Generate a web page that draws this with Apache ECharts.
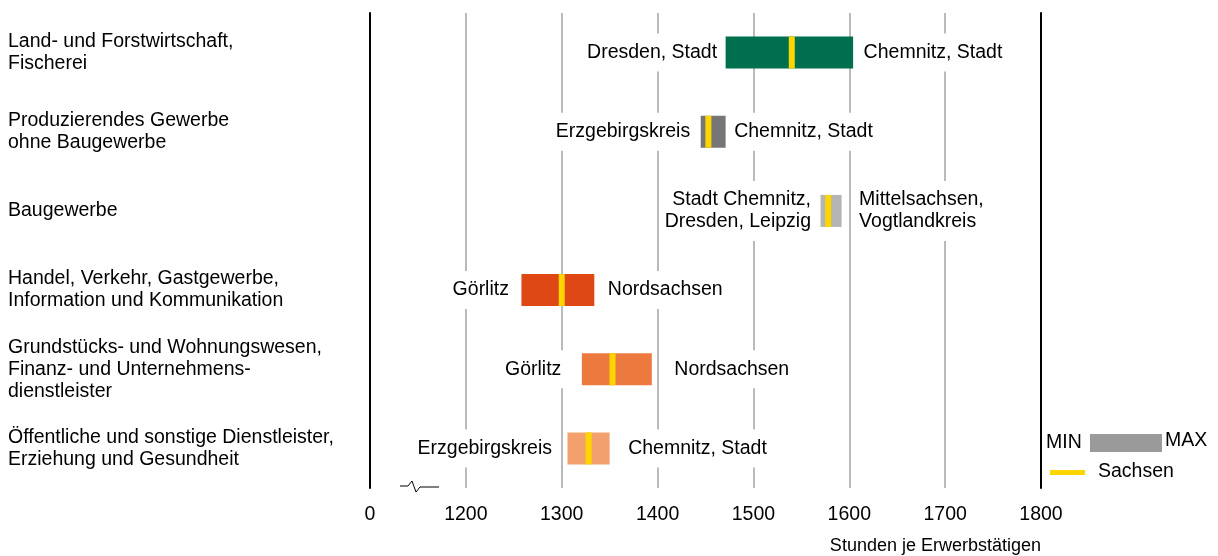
<!DOCTYPE html>
<html>
<head>
<meta charset="utf-8">
<script src="https://cdn.jsdelivr.net/npm/echarts@6/dist/echarts.min.js"></script>
<style>html,body{margin:0;padding:0;background:#fff}#c{width:1218px;height:556px}</style>
</head>
<body>
<div id="c"></div>
<script>
// ---- data ----
const categories = [
  'Land- und Forstwirtschaft,\nFischerei',
  'Produzierendes Gewerbe\nohne Baugewerbe',
  'Baugewerbe',
  'Handel, Verkehr, Gastgewerbe,\nInformation und Kommunikation',
  'Grundstücks- und Wohnungswesen,\nFinanz- und Unternehmens-\ndienstleister',
  'Öffentliche und sonstige Dienstleister,\nErziehung und Gesundheit'
];
const minValues = [1471, 1445, 1570, 1258, 1321, 1306];
const maxValues = [1604, 1471, 1592, 1334, 1394, 1350];
const sachsenValues = [1540, 1453, 1578, 1300, 1353, 1328];
const minNames = ['Dresden, Stadt', 'Erzgebirgskreis', 'Stadt Chemnitz,\nDresden, Leipzig', 'Görlitz', 'Görlitz', 'Erzgebirgskreis'];
const maxNames = ['Chemnitz, Stadt', 'Chemnitz, Stadt', 'Mittelsachsen,\nVogtlandkreis', 'Nordsachsen', 'Nordsachsen', 'Chemnitz, Stadt'];
const tickValues = [1100, 1200, 1300, 1400, 1500, 1600, 1700, 1800];
const tickLabels = ['0', '1200', '1300', '1400', '1500', '1600', '1700', '1800'];
const axisTitle = 'Stunden je Erwerbstätigen';
const legendMin = 'MIN', legendMax = 'MAX', legendSachsen = 'Sachsen';

// ---- styles ----
const barColors = ['#006f4e', '#767676', '#b4b4b4', '#dd4815', '#ec7a3f', '#f2a16e'];
const yellow = '#ffd500';
const gapLeft = [8, 10, 9, 12, 20, 15];
const gapRight = [10, 8, 17, 13, 22, 18];
const FONT = 'Liberation Sans, Arial, sans-serif';
const FS = 19.5;

const chart = echarts.init(document.getElementById('c'));
const labelBase = {
  show: true, color: '#000', opacity: 1, fontFamily: FONT, fontSize: FS, lineHeight: 22,
  backgroundColor: '#fff', padding: [10, 4, 6, 4]
};
chart.setOption({
  animation: false,
  grid: { left: 370, right: 177, top: 13, bottom: 68, containLabel: false, outerBoundsMode: 'none' },
  xAxis: {
    type: 'value', min: 1100, max: 1800, interval: 100,
    axisLine: { show: false }, axisTick: { show: false },
    axisLabel: { color: '#000', fontFamily: FONT, fontSize: FS, margin: 17,
      formatter: v => tickLabels[tickValues.indexOf(v)] },
    splitLine: { lineStyle: { color: '#a3a3a3', width: 1.5 } },
    name: axisTitle, nameLocation: 'end', nameGap: 0,
    nameTextStyle: { color: '#000', fontFamily: FONT, fontSize: 18, align: 'right', verticalAlign: 'top', padding: [49, 0, 0, 0] }
  },
  yAxis: [{
    type: 'category', data: categories, inverse: true,
    axisLine: { show: true, lineStyle: { color: '#000', width: 2 } },
    axisTick: { show: false },
    axisLabel: { align: 'left', margin: 362, color: '#000', fontFamily: FONT, fontSize: FS, lineHeight: 22, padding: [2, 0, 0, 0] }
  }, {
    type: 'category', data: categories, inverse: true, position: 'right',
    axisLine: { show: true, lineStyle: { color: '#000', width: 2 } },
    axisTick: { show: false }, axisLabel: { show: false }
  }],
  series: [
    { type: 'bar', stack: 'r', silent: true, barWidth: 32, data: minValues,
      itemStyle: { color: 'rgba(0,0,0,0)' } },
    { type: 'bar', stack: 'r', barWidth: 32,
      data: maxValues.map((v, i) => ({ value: v - minValues[i], itemStyle: { color: barColors[i] } })) },
    { type: 'scatter', symbol: 'rect', symbolSize: [6, 32], z: 5,
      itemStyle: { color: yellow, opacity: 1 },
      data: sachsenValues.map((v, i) => [v, i]) },
    { type: 'scatter', symbolSize: 1, z: 6, itemStyle: { color: 'rgba(255,255,255,0)' },
      label: Object.assign({}, labelBase, { position: 'left' }),
      data: minValues.map((v, i) => ({ value: [v, i],
        label: Object.assign({}, labelBase, { position: 'left', distance: gapLeft[i] - 4, formatter: minNames[i] }) })) },
    { type: 'scatter', symbolSize: 1, z: 6, itemStyle: { color: 'rgba(255,255,255,0)' },
      label: Object.assign({}, labelBase, { position: 'right' }),
      data: maxValues.map((v, i) => ({ value: [v, i],
        label: Object.assign({}, labelBase, { position: 'right', distance: gapRight[i] - 4, formatter: maxNames[i] }) })) }
  ]
});

// break symbol and legend
const x0 = chart.convertToPixel({ xAxisIndex: 0 }, 1100);
const x1 = chart.convertToPixel({ xAxisIndex: 0 }, 1800);
const y0 = 556 - 68;
chart.setOption({
  graphic: [
    { type: 'polyline', shape: { points: [[x0 + 30, y0 - 2], [x0 + 38, y0 - 2], [x0 + 42, y0 - 7], [x0 + 46, y0 + 4], [x0 + 50, y0 - 1], [x0 + 69, y0 - 1]] },
      style: { stroke: '#000', lineWidth: 1, fill: null } },
    { type: 'text', left: x1 + 5, top: 433, style: { text: legendMin, font: FS + 'px ' + FONT, fill: '#000' } },
    { type: 'rect', shape: { x: x1 + 49, y: 434, width: 72, height: 18 }, style: { fill: '#9a9a9a' } },
    { type: 'text', left: x1 + 124, top: 431, style: { text: legendMax, font: FS + 'px ' + FONT, fill: '#000' } },
    { type: 'rect', shape: { x: x1 + 9, y: 470, width: 35, height: 5 }, style: { fill: yellow } },
    { type: 'text', left: x1 + 57, top: 462, style: { text: legendSachsen, font: FS + 'px ' + FONT, fill: '#000' } }
  ]
});
</script>
</body>
</html>
